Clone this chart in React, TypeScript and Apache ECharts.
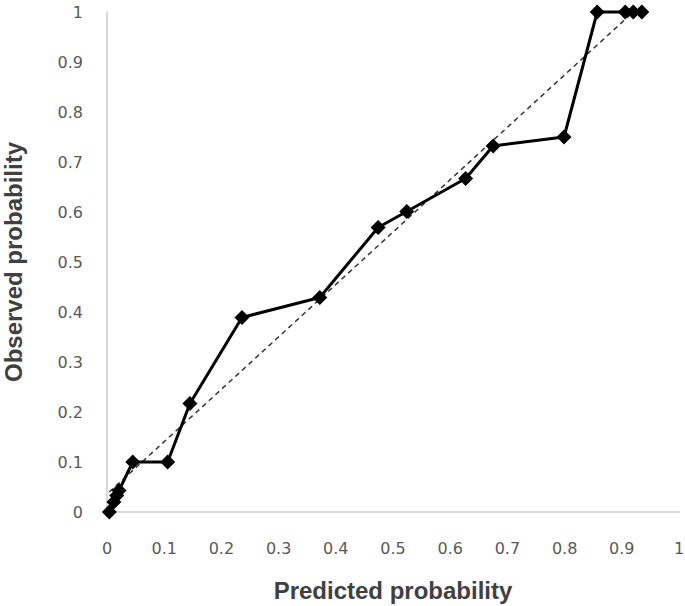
import React, { useEffect, useRef } from "react";
import * as echarts from "echarts";

const predicted = [0.004, 0.012, 0.017, 0.021, 0.045, 0.106, 0.145, 0.236, 0.372, 0.474, 0.524, 0.627, 0.675, 0.799, 0.857, 0.906, 0.92, 0.935];
const observed = [0, 0.02, 0.033, 0.043, 0.1, 0.1, 0.217, 0.389, 0.429, 0.569, 0.601, 0.667, 0.732, 0.75, 1, 1, 1, 1];
const trendX = [0.004, 0.92];
const trendY = [0.04, 1.0];
const axisTicks = [0, 0.1, 0.2, 0.3, 0.4, 0.5, 0.6, 0.7, 0.8, 0.9, 1];

export default function App() {
  const ref = useRef<HTMLDivElement>(null);
  useEffect(() => {
    document.body.style.margin = "0";
    document.body.style.overflow = "hidden";
    if (!ref.current) return;
    const chart = echarts.init(ref.current, null, { renderer: "svg" });
    const labelStyle = {
      color: "#595959",
      fontSize: 16,
      fontFamily: "DejaVu Sans",
    };
    const nameStyle = {
      color: "#404040",
      fontSize: 24,
      fontWeight: "bold" as const,
      fontFamily: "Liberation Sans",
    };
    const fmt = (v: number) => {
      const t = axisTicks.find((x) => Math.abs(x - v) < 1e-6);
      return t === undefined ? "" : String(Math.round(t * 10) / 10);
    };
    chart.setOption({
      animation: false,
      backgroundColor: "#ffffff",
      grid: {
        left: 107,
        right: 6,
        top: 12,
        bottom: 94,
        containLabel: false,
        outerBoundsMode: "none",
      },
      xAxis: {
        type: "value",
        min: 0,
        max: 1,
        interval: 0.1,
        name: "Predicted probability",
        nameLocation: "middle",
        nameGap: 66,
        nameTextStyle: nameStyle,
        axisLine: { show: true, lineStyle: { color: "#d9d9d9", width: 2 } },
        axisTick: { show: false },
        splitLine: { show: false },
        axisLabel: { ...labelStyle, margin: 28, formatter: fmt },
      },
      yAxis: {
        type: "value",
        min: 0,
        max: 1,
        interval: 0.1,
        name: "Observed probability",
        nameLocation: "middle",
        nameGap: 82,
        nameTextStyle: nameStyle,
        axisLine: { show: true, lineStyle: { color: "#d9d9d9", width: 2 } },
        axisTick: { show: false },
        splitLine: { show: false },
        axisLabel: { ...labelStyle, margin: 24, formatter: fmt },
      },
      series: [
        {
          type: "line",
          data: trendX.map((x, i) => [x, trendY[i]]),
          showSymbol: false,
          symbol: "none",
          lineStyle: { color: "#333333", width: 1.5, type: [5, 4] },
          z: 1,
        },
        {
          type: "line",
          data: predicted.map((x, i) => [x, observed[i]]),
          symbol: "diamond",
          symbolSize: 15,
          clip: false,
          itemStyle: { color: "#000000" },
          lineStyle: { color: "#000000", width: 3 },
          z: 2,
        },
      ],
    });
    return () => chart.dispose();
  }, []);
  return <div ref={ref} style={{ width: 685, height: 606 }} />;
}
